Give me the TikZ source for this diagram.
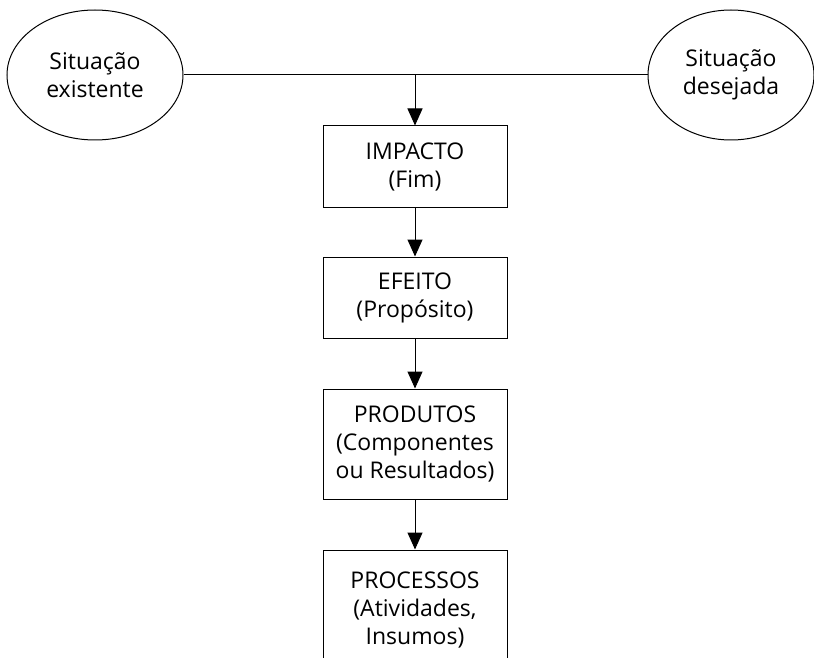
\documentclass[tikz,border=0pt]{standalone}
\usepackage{fontspec}
\setmainfont{Open Sans}
\usetikzlibrary{arrows.meta,shapes.geometric}
\begin{document}
\begin{tikzpicture}[x=1pt,y=-1pt,
  every node/.style={font=\fontsize{23}{28}\selectfont, align=center, inner sep=0pt},
  sit/.style={draw, ellipse, line width=1pt, minimum width=176pt, minimum height=130pt},
  stage/.style={draw, rectangle, line width=1pt, minimum width=184pt},
  link/.style={line width=1pt},
  flow/.style={line width=1pt, -{Triangle[width=15pt,length=17pt]}}]
  \useasboundingbox (0,0) rectangle (814,658);
  \clip (0,0) rectangle (814,658);
  \fill[white] (0,0) rectangle (814,658);

  % the two situations
  \node[sit] (exist) at (95,75) {Situação\\existente};
  \node[sit, minimum width=166pt] (desej) at (731,75) {Situação\\desejada};

  % the chain of stages
  \node[stage, minimum height=81pt]  (impacto) at (415,166.5) {IMPACTO\\(Fim)};
  \node[stage, minimum height=81pt]  (efeito)  at (415,297.5) {EFEITO\\(Propósito)};
  \node[stage, minimum height=110pt] (produtos) at (415,444) {PRODUTOS\\(Componentes\\ou Resultados)};
  \node[stage, minimum height=120pt] (processos) at (415,610) {PROCESSOS\\(Atividades,\\Insumos)};

  % connectors
  \draw[link] (exist.east) -- (desej.west);
  \coordinate (junc) at (415,75);
  \draw[flow] (junc) -- (impacto.north);
  \draw[flow] (impacto) -- (efeito);
  \draw[flow] (efeito) -- (produtos);
  \draw[flow] (produtos) -- (processos);
\end{tikzpicture}
\end{document}
